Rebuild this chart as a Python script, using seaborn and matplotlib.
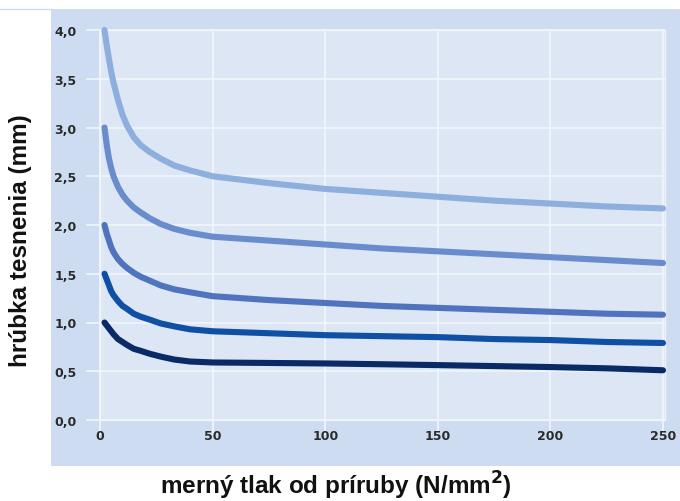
import numpy as np
import pandas as pd
import seaborn as sns
import matplotlib.pyplot as plt
from matplotlib.patches import Rectangle

# Data
x_vals = [2, 3, 4, 5, 6, 8, 10, 12, 15, 18, 22, 27, 33, 40, 50,
          75, 100, 125, 150, 175, 200, 225, 250]
curve_4 = [4.0, 3.84, 3.70, 3.57, 3.46, 3.28, 3.13, 3.02, 2.90, 2.82, 2.75, 2.68, 2.61, 2.56, 2.50,
           2.43, 2.37, 2.33, 2.29, 2.25, 2.22, 2.19, 2.17]
curve_3 = [3.0, 2.82, 2.68, 2.58, 2.50, 2.39, 2.31, 2.25, 2.18, 2.13, 2.07, 2.01, 1.96, 1.92, 1.88,
           1.84, 1.80, 1.76, 1.73, 1.70, 1.67, 1.64, 1.61]
curve_2 = [2.0, 1.91, 1.84, 1.77, 1.72, 1.65, 1.60, 1.56, 1.51, 1.47, 1.43, 1.38, 1.34, 1.31, 1.27,
           1.23, 1.20, 1.17, 1.15, 1.13, 1.11, 1.09, 1.08]
curve_15 = [1.5, 1.44, 1.38, 1.32, 1.28, 1.22, 1.17, 1.14, 1.09, 1.06, 1.03, 0.99, 0.96, 0.93, 0.91,
            0.89, 0.87, 0.86, 0.85, 0.83, 0.82, 0.80, 0.79]
curve_1 = [1.0, 0.97, 0.94, 0.91, 0.88, 0.83, 0.80, 0.77, 0.73, 0.71, 0.68, 0.65, 0.62, 0.60, 0.59,
           0.585, 0.58, 0.572, 0.563, 0.553, 0.543, 0.53, 0.51]

x_ticks = [0, 50, 100, 150, 200, 250]
y_ticks = [0.0, 0.5, 1.0, 1.5, 2.0, 2.5, 3.0, 3.5, 4.0]
y_ticklabels = ['0,0', '0,5', '1,0', '1,5', '2,0', '2,5', '3,0', '3,5', '4,0']

curves = [curve_4, curve_3, curve_2, curve_15, curve_1]
colors = ['#8eaedd', '#6a8ccc', '#4f73bd', '#0f50a4', '#0a2a66']

W, H = 680, 502
fig = plt.figure(figsize=(W / 100, H / 100), dpi=100)

# outer blue panel
fig.patches.append(Rectangle((51 / W, 1 - 467 / H), (W - 51) / W, (467 - 10) / H,
                             transform=fig.transFigure, facecolor='#cddcf0', edgecolor='none', zorder=-5))
fig.lines.append(plt.Line2D([0, 51 / W], [1 - 10 / H, 1 - 10 / H], transform=fig.transFigure,
                            color='#cddcf0', lw=1, zorder=-5))

# axes in pixel positions
left, right, top, bottom = 80, 670, 25, 440
ax = fig.add_axes([left / W, 1 - bottom / H, (right - left) / W, (bottom - top) / H])
ax.set_zorder(1)
ax.patch.set_visible(False)
for s in ax.spines.values():
    s.set_visible(False)

ppx = 563 / 250
ppy = 97.5
ax.set_xlim((left - 100) / ppx, (right - 100) / ppx)
ax.set_ylim((421 - bottom) / ppy, (421 - top) / ppy)

# inner lighter area
ax.add_patch(Rectangle((0, 0), 251, 4.0, facecolor='#dce6f4', edgecolor='#eef3fa', lw=1, zorder=0))

# grid lines
ax.hlines(y_ticks, -6, 251, colors='#f2f6fb', lw=1.2, zorder=1)
ax.vlines(x_ticks, -0.15, 4.0, colors='#f2f6fb', lw=1.2, zorder=1)

for ys, c in zip(curves, colors):
    df = pd.DataFrame({'x': x_vals, 'y': ys})
    sns.lineplot(data=df, x='x', y='y', ax=ax, color=c, lw=4.4, zorder=3,
                 solid_capstyle='round', solid_joinstyle='round')

ax.set_xticks(x_ticks)
ax.set_xticklabels([str(t) for t in x_ticks])
ax.set_yticks(y_ticks)
ax.set_yticklabels(y_ticklabels)
ax.tick_params(length=0, labelsize=9, colors='#2b2b2b')
for lab in ax.get_xticklabels() + ax.get_yticklabels():
    lab.set_fontweight('bold')
    lab.set_family('DejaVu Sans')
ax.tick_params(axis='x', pad=-7)
ax.tick_params(axis='y', pad=2.5)
ax.set_xlabel('')
ax.set_ylabel('')

fig.text(21 / W, 1 - 241 / H, 'hrúbka tesnenia (mm)', rotation=90, ha='center', va='center',
         fontsize=17.5, fontweight='bold', family='Liberation Sans', color='#111111')
fig.text(336 / W, 1 - 486 / H, 'merný tlak od príruby (N/mm$^\\mathbf{2}$)', ha='center', va='center',
         fontsize=17.5, fontweight='bold', family='Liberation Sans', color='#111111')

fig.savefig('out.png', dpi=100)
